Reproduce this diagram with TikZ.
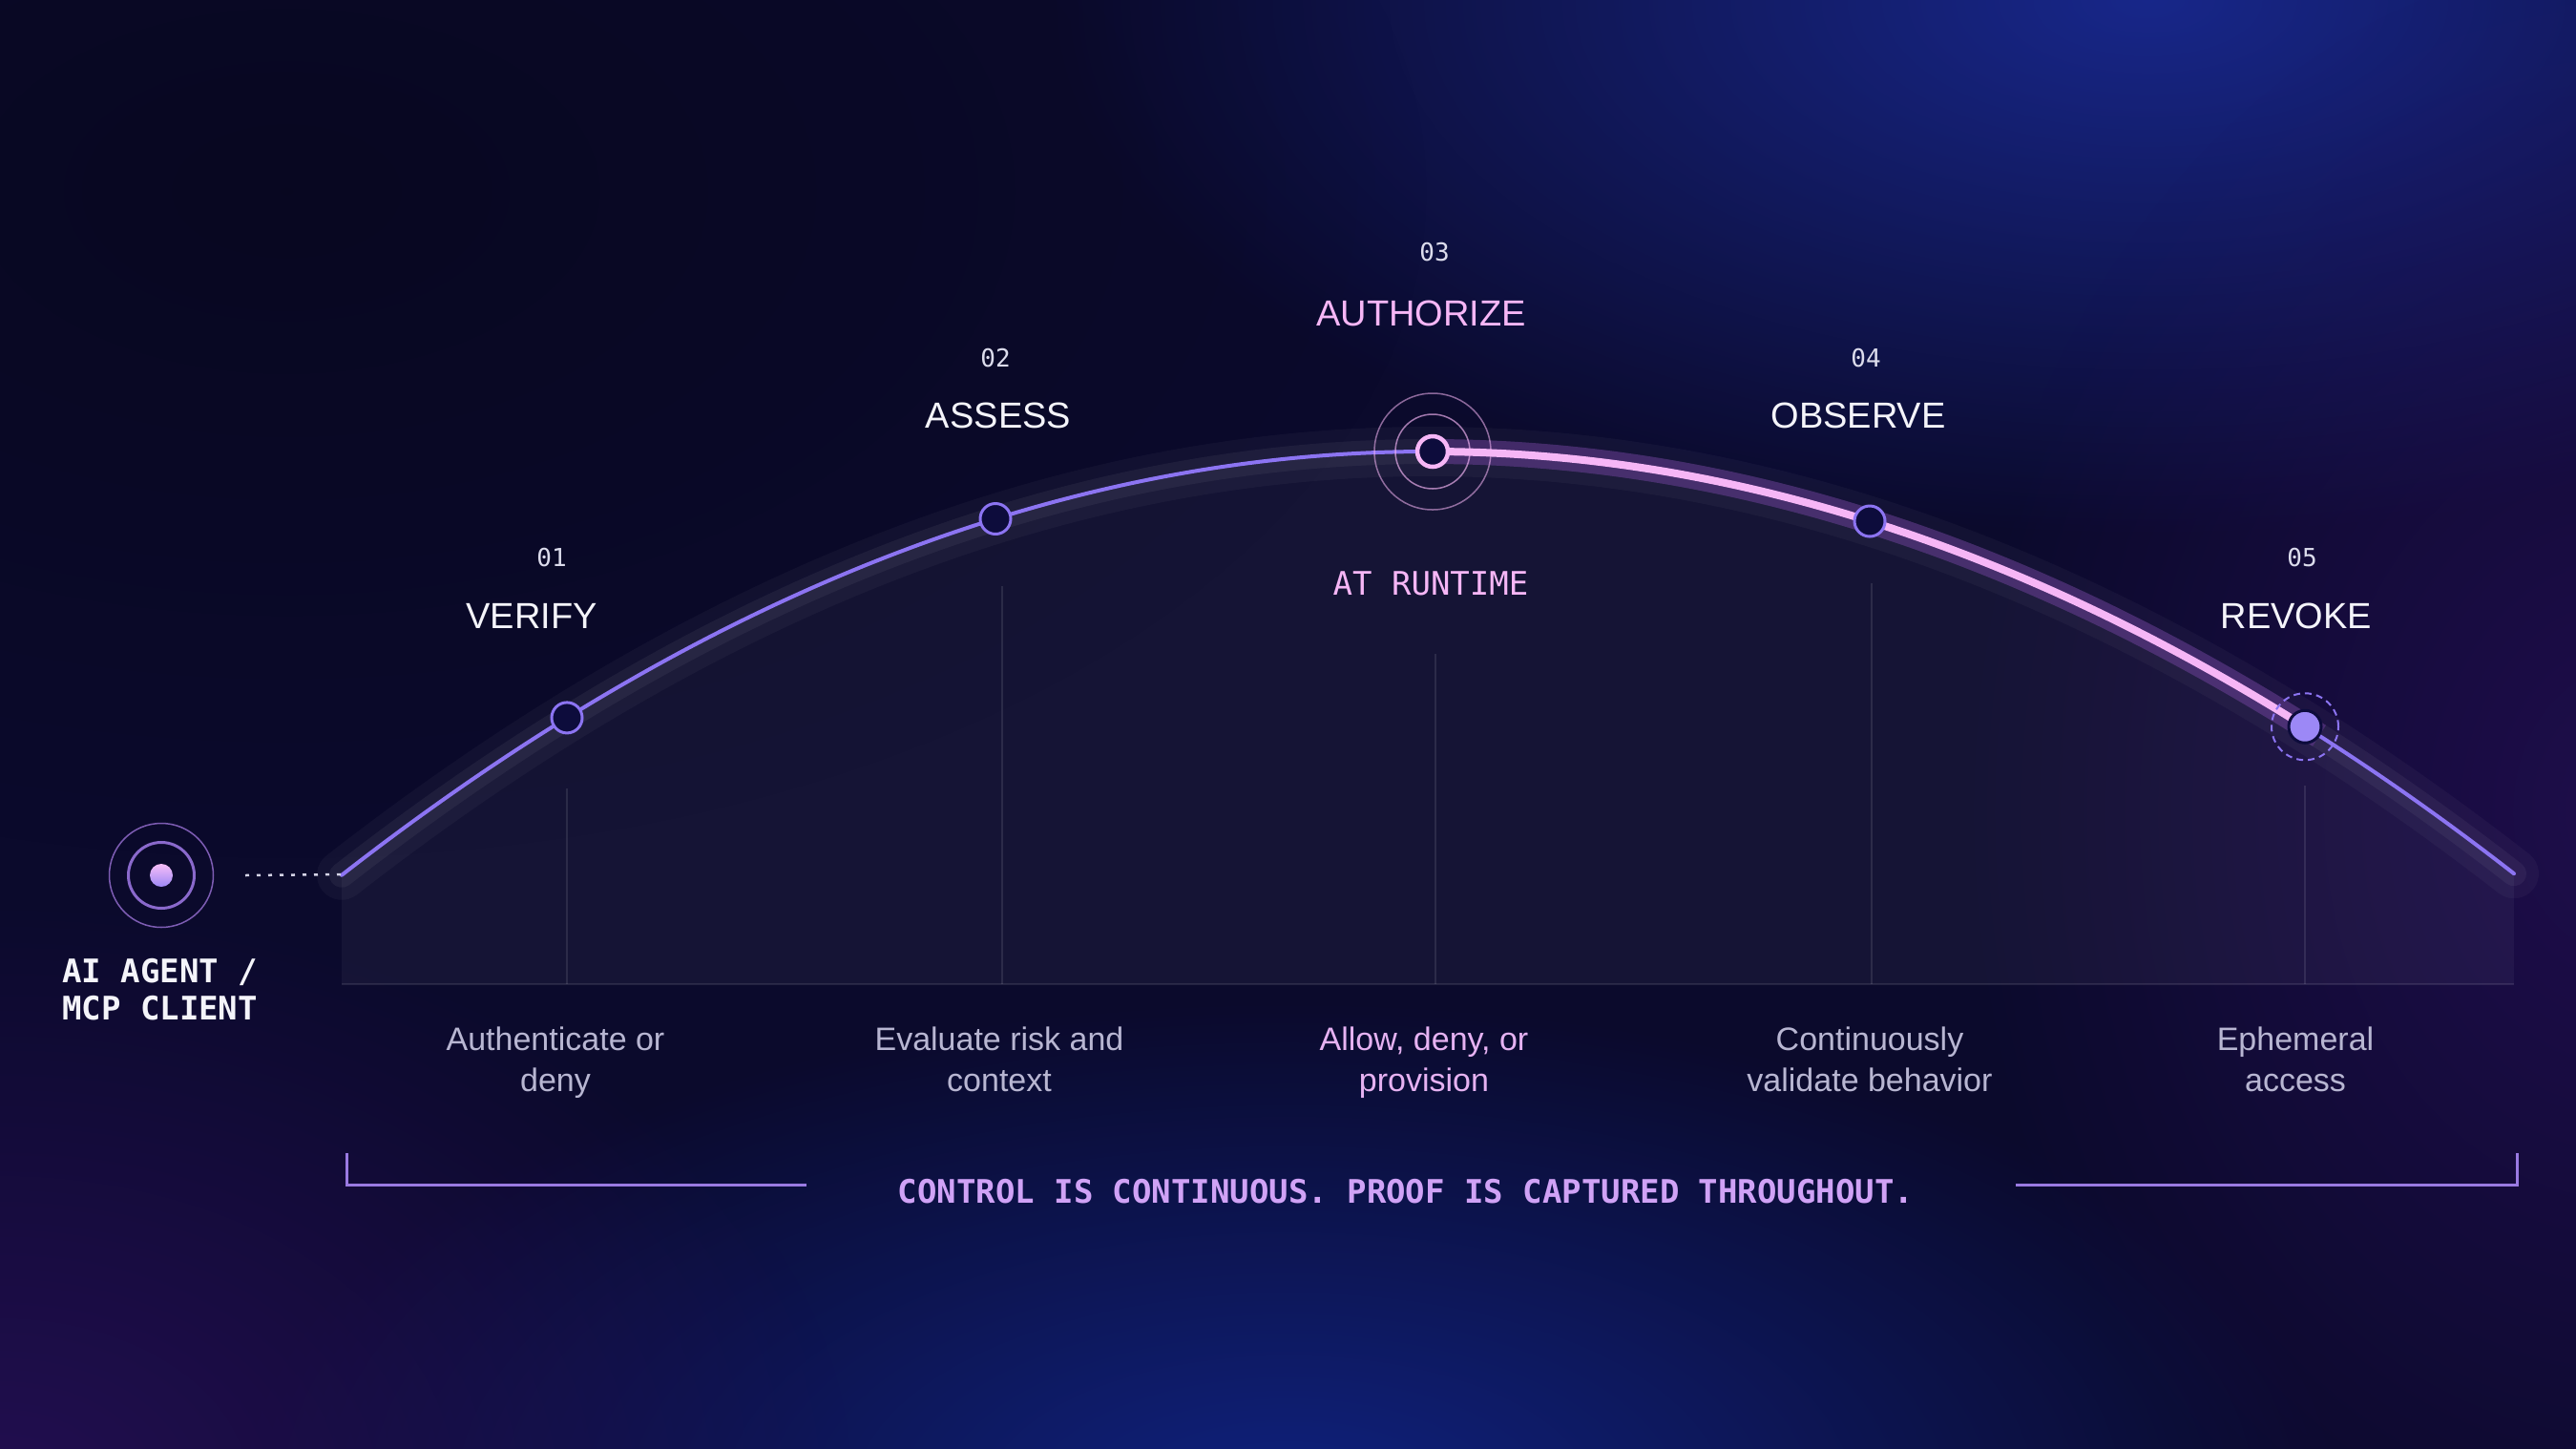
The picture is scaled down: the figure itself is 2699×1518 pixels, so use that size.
\documentclass[tikz,border=0pt]{standalone}
\usepackage{fontspec}
\setmainfont{Liberation Sans}
\newfontfamily\monof{DejaVu Sans Mono}
\usetikzlibrary{fadings}
\definecolor{bgbase}{HTML}{0B0A2C}
\definecolor{glowblue}{HTML}{1A2C9A}
\definecolor{glowblue2}{HTML}{10268C}
\definecolor{glowpurple}{HTML}{2C1060}
\definecolor{lilac}{HTML}{8C74F2}
\definecolor{pinkl}{HTML}{F6B6F6}
\definecolor{navy}{HTML}{0D0C3C}
\definecolor{descc}{HTML}{B8B6D2}
\definecolor{descpink}{HTML}{E6B2F2}
\definecolor{captc}{HTML}{D0A2F6}
\definecolor{brack}{HTML}{9A7AE2}
\definecolor{numc}{HTML}{DCDCEC}
\definecolor{titlec}{HTML}{F4F4FA}
\definecolor{ringc}{HTML}{8A66C2}
\definecolor{revfill}{HTML}{9C88F6}
\definecolor{bandpink}{HTML}{6E3A9E}
\tikzfading[name=glowfade, inner color=transparent!0, outer color=transparent!100]
\tikzset{
  num/.style={font=\monof\fontsize{26}{30}\selectfont, text=numc, anchor=base, inner sep=0pt},
  ttl/.style={font=\fontsize{38}{44}\selectfont, text=titlec, anchor=base, inner sep=0pt},
  dsc/.style={font=\fontsize{34}{43}\selectfont, text=descc, anchor=base, inner sep=0pt},
  monobold/.style={font=\monof\bfseries\fontsize{34}{40}\selectfont, inner sep=0pt, anchor=base},
  stepdot/.style={circle, minimum size=32pt, inner sep=0pt, fill=navy, draw=lilac, line width=3pt},
  guide/.style={draw=white, draw opacity=0.10, line width=1.5pt},
  arcline/.style={line width=4pt, line cap=round},
}
\begin{document}
\begin{tikzpicture}[x=1pt,y=-1pt,
  declare function={arcy(\t)=473+443*((\t-1497)/1138)*((\t-1497)/1138);}]
\useasboundingbox (0,0) rectangle (2699,1518);
% background
\fill[bgbase] (0,0) rectangle (2699,1518);
\fill[glowblue, fill opacity=0.85, path fading=glowfade] (2250,0) ellipse (1150 and 560);
\fill[glowblue2, fill opacity=0.85, path fading=glowfade] (1350,1570) ellipse (1100 and 520);
\fill[glowpurple, fill opacity=0.7, path fading=glowfade] (0,1560) ellipse (900 and 620);
\fill[glowpurple, fill opacity=0.6, path fading=glowfade] (2750,850) ellipse (700 and 900);
\fill[black, fill opacity=0.25, path fading=glowfade] (300,200) ellipse (1200 and 700);
% area under curve
\fill[white, fill opacity=0.045] plot[domain=358:2634, samples=150] (\x,{arcy(\x)}) -- (2634,1031) -- (358,1031) -- cycle;
% glow bands
\draw[white, draw opacity=0.035, line width=52pt, line cap=round] plot[domain=358:2634, samples=150] (\x,{arcy(\x)});
\draw[white, draw opacity=0.05, line width=26pt, line cap=round] plot[domain=358:2634, samples=150] (\x,{arcy(\x)});
\draw[bandpink, draw opacity=0.45, line width=26pt] plot[domain=1490:2430, samples=80] (\x,{arcy(\x)});
% guides
\coordinate (bl) at (358,1031);
\coordinate (br) at (2634,1031);
\draw[guide] (bl) -- (br);
\coordinate (g1) at (594,826);
\coordinate (g2) at (1050,614);
\coordinate (g3) at (1504,685);
\coordinate (g4) at (1961,611);
\coordinate (g5) at (2415,823);
\foreach \g in {g1,g2,g3,g4,g5} \draw[guide] (\g) -- (\g |- bl);
% curve
\draw[arcline, lilac] plot[domain=358:1501, samples=120] (\x,{arcy(\x)});
\draw[arcline, lilac] plot[domain=2415:2634, samples=40] (\x,{arcy(\x)});
\draw[pinkl, line width=8pt] plot[domain=1501:2415, samples=100] (\x,{arcy(\x)});
% agent icon
\node[circle, minimum size=109pt, inner sep=0pt, draw=ringc, line width=1.5pt, draw opacity=0.9] (agouter) at (169,917) {};
\node[circle, minimum size=69pt, inner sep=0pt, draw=ringc!80!lilac, line width=3pt] (agmid) at (agouter.center) {};
\node[circle, minimum size=24pt, inner sep=0pt, top color=pinkl!90!white, bottom color=revfill] (agdot) at (agouter.center) {};
\coordinate (dotstart) at (257,917);
\coordinate (cstart) at (358,916);
\draw[numc!80!descc, line width=2.5pt, dash pattern=on 4pt off 8pt] (dotstart) -- (cstart);
\node[monobold, text=titlec, anchor=base west] (ag1) at (65,1029) {AI AGENT /};
\node[monobold, text=titlec, anchor=base west] (ag2) at (65,1068) {MCP CLIENT};
% step nodes
\node[stepdot] (n1) at (594,{arcy(594)}) {};
\node[stepdot] (n2) at (1043,{arcy(1043)}) {};
\node[circle, minimum size=122pt, inner sep=0pt, draw=pinkl, draw opacity=0.55, line width=1.5pt] (n3outer) at (1501,{arcy(1501)}) {};
\node[circle, minimum size=78pt, inner sep=0pt, draw=pinkl, draw opacity=0.65, line width=1.5pt] (n3ring) at (n3outer.center) {};
\node[circle, minimum size=32pt, inner sep=0pt, fill=navy, draw=pinkl, line width=4.5pt] (n3) at (n3outer.center) {};
\node[stepdot] (n4) at (1959,{arcy(1959)}) {};
\node[circle, minimum size=70pt, inner sep=0pt, draw=lilac, line width=2pt, dash pattern=on 7pt off 5pt] (n5ring) at (2415,{arcy(2415)}) {};
\node[circle, minimum size=34pt, inner sep=0pt, fill=revfill, draw=navy, line width=3pt] (n5) at (n5ring.center) {};
% numbers and titles
\node[num] (num1) at (578,593) {01};
\node[num] (num2) at (1043,384) {02};
\node[num] (num3) at (1503,273) {03};
\node[num] (num4) at (1955,384) {04};
\node[num] (num5) at (2412,593) {05};
\node[ttl] (t1) at (557,658) {VERIFY};
\node[ttl] (t2) at (1046,448) {ASSESS};
\node[ttl, text=pinkl] (t3) at (1489,341) {AUTHORIZE};
\node[ttl] (t4) at (1947,448) {OBSERVE};
\node[ttl] (t5) at (2406,658) {REVOKE};
\node[font=\monof\fontsize{34}{40}\selectfont, text=pinkl, anchor=base, inner sep=0pt] (rt) at (1499,623) {AT RUNTIME};
% descriptions
\node[dsc] (d1a) at (582,1100) {Authenticate or};
\node[dsc] (d1b) at (582,1143) {deny};
\node[dsc] (d2a) at (1047,1100) {Evaluate risk and};
\node[dsc] (d2b) at (1047,1143) {context};
\node[dsc, text=descpink] (d3a) at (1492,1100) {Allow, deny, or};
\node[dsc, text=descpink] (d3b) at (1492,1143) {provision};
\node[dsc] (d4a) at (1959,1100) {Continuously};
\node[dsc] (d4b) at (1959,1143) {validate behavior};
\node[dsc] (d5a) at (2405,1100) {Ephemeral};
\node[dsc] (d5b) at (2405,1143) {access};
% bracket and caption
\node[monobold, text=captc] (cap) at (1473,1260) {CONTROL IS CONTINUOUS. PROOF IS CAPTURED THROUGHOUT.};
\coordinate (bk1) at (363,1208);
\coordinate (bk2) at (363,1241);
\coordinate (bk3) at (845,1241);
\coordinate (bk4) at (2112,1241);
\coordinate (bk5) at (2637,1241);
\coordinate (bk6) at (2637,1208);
\draw[brack, line width=3pt] (bk1) -- (bk2) -- (bk3);
\draw[brack, line width=3pt] (bk4) -- (bk5) -- (bk6);
\end{tikzpicture}
\end{document}
